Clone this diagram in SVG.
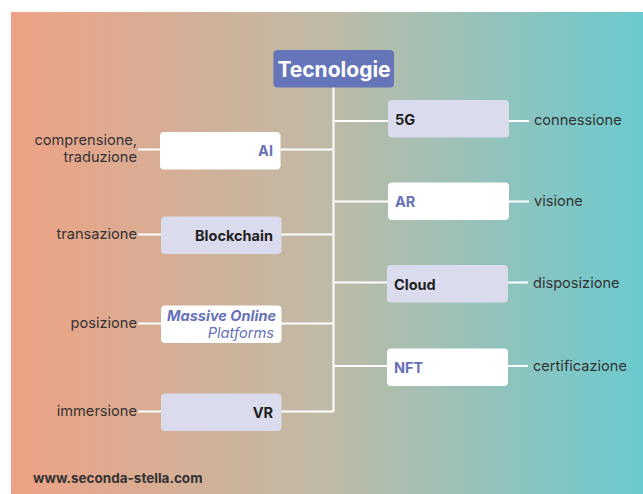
<svg xmlns="http://www.w3.org/2000/svg" width="643" height="494" viewBox="0 0 643 494">
<defs>
<linearGradient id="bg" x1="0" y1="0" x2="1" y2="0">
<stop offset="0" stop-color="#EEA285"/>
<stop offset="0.5" stop-color="#BFBAA6"/>
<stop offset="1" stop-color="#6BCACF"/>
</linearGradient>
<style>
.ln{stroke:#fff;stroke-width:2;fill:none}
.lav{fill:#DBDBEE}
.wh{fill:#fff}
.nt{font-family:Inter,"Liberation Sans",sans-serif;font-weight:700;font-size:14.5px;fill:#222}
.bl{fill:#6672B8}
.lb{font-family:Inter,"Liberation Sans",sans-serif;font-size:14.6px;fill:#333}
</style>
</defs>
<rect x="0" y="0" width="643" height="494" fill="#fff"/>
<rect x="11" y="12" width="632" height="482" fill="url(#bg)"/>
<g id="connectors">
<path class="ln" d="M333.5 87V411.5"/>
<path class="ln" d="M280 149.5H333.5M281 234.5H333.5M281 323.5H333.5M281 411.5H333.5"/>
<path class="ln" d="M333.5 121H388M333.5 201.5H388M333.5 282.5H387M333.5 366H387"/>
<path class="ln" d="M138 149.5H160M138 234.5H161M138 323.5H161M138 411.5H161"/>
<path class="ln" d="M508 121H529M508 201.5H529M507 282.5H528M507 366H528"/>
</g>
<g id="root">
<rect x="273.5" y="50" width="120.5" height="37.5" rx="4" fill="#6675BA"/>
<text x="334" y="77" text-anchor="middle" font-family="Inter,'Liberation Sans',sans-serif" font-weight="700" font-size="21" fill="#fff">Tecnologie</text>
</g>
<g id="ai">
<rect class="wh" x="160" y="132" width="120.5" height="37.5" rx="4"/>
<text class="nt bl" x="273" y="156" text-anchor="end">AI</text>
</g>
<g id="blockchain">
<rect class="lav" x="161" y="216.5" width="120.5" height="37.5" rx="4"/>
<text class="nt" x="273" y="240.5" text-anchor="end">Blockchain</text>
</g>
<g id="mop">
<rect class="wh" x="161" y="305.5" width="120.5" height="37.5" rx="4"/>
<text class="nt bl" x="276" y="321" text-anchor="end" font-style="italic" font-size="13.6">Massive Online</text>
<text x="274" y="337.5" text-anchor="end" font-family="Inter,'Liberation Sans',sans-serif" font-style="italic" font-size="14.6" fill="#6672B8">Platforms</text>
</g>
<g id="vr">
<rect class="lav" x="161" y="393.5" width="120.5" height="37.5" rx="4"/>
<text class="nt" x="273" y="417.5" text-anchor="end">VR</text>
</g>
<g id="g5">
<rect class="lav" x="388" y="100" width="121" height="37.5" rx="4"/>
<text class="nt" x="395" y="124.5">5G</text>
</g>
<g id="ar">
<rect class="wh" x="388" y="182.5" width="121" height="37.5" rx="4"/>
<text class="nt bl" x="395" y="206.5">AR</text>
</g>
<g id="cloud">
<rect class="lav" x="387" y="265" width="121" height="37.5" rx="4"/>
<text class="nt" x="394" y="289.5">Cloud</text>
</g>
<g id="nft">
<rect class="wh" x="387" y="348.5" width="121" height="37.5" rx="4"/>
<text class="nt bl" x="394" y="372.5">NFT</text>
</g>
<g id="labels">
<text class="lb" x="137" y="145" text-anchor="end" font-size="14.2">comprensione,</text>
<text class="lb" x="137" y="162" text-anchor="end" font-size="14.2">traduzione</text>
<text class="lb" x="137" y="239" text-anchor="end">transazione</text>
<text class="lb" x="137" y="327.5" text-anchor="end">posizione</text>
<text class="lb" x="137" y="416" text-anchor="end">immersione</text>
<text class="lb" x="534" y="125">connessione</text>
<text class="lb" x="534" y="205.5">visione</text>
<text class="lb" x="533" y="288">disposizione</text>
<text class="lb" x="533" y="371">certificazione</text>
</g>
<text x="33" y="482.5" font-family="Inter,'Liberation Sans',sans-serif" font-weight="700" font-size="13.5" fill="#333">www.seconda-stella.com</text>
</svg>
